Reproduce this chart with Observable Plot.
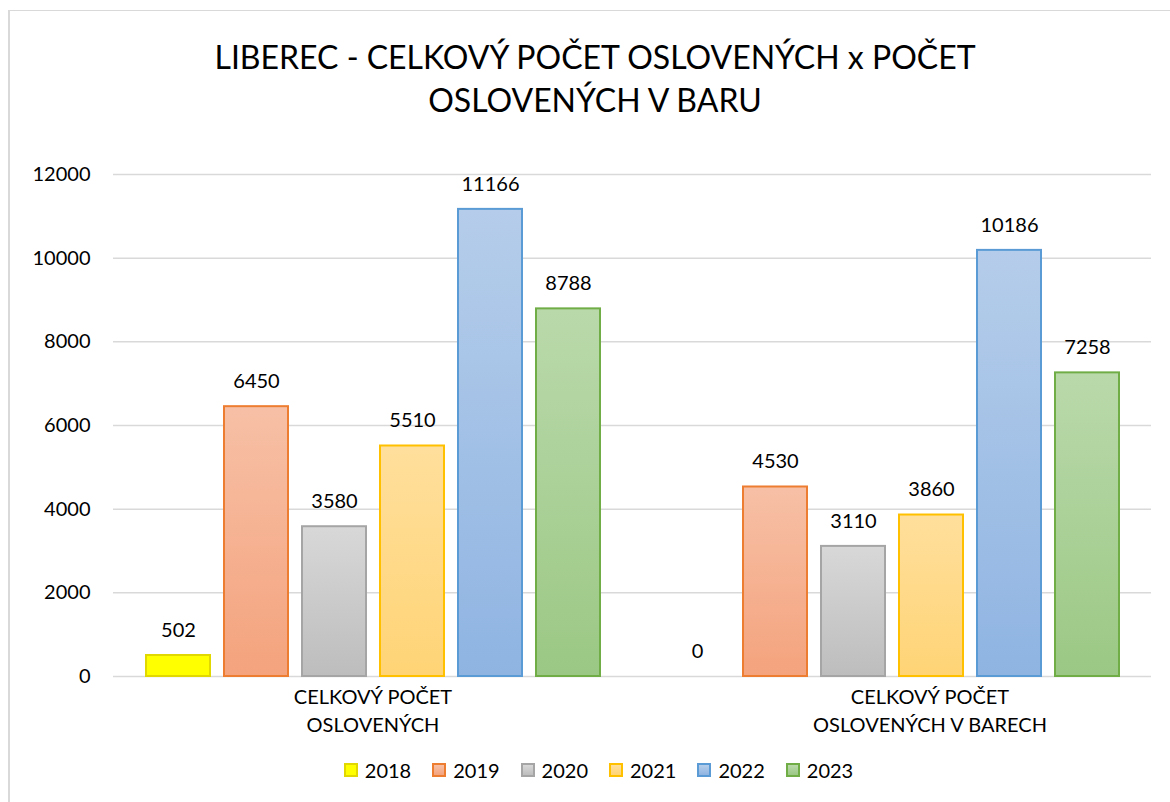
<!DOCTYPE html>
<html>
<head>
<meta charset="utf-8">
<script src="https://cdn.jsdelivr.net/npm/d3@7"></script>
<script src="https://cdn.jsdelivr.net/npm/@observablehq/plot@0.6"></script>
<style>
  html, body { margin: 0; padding: 0; background: #fff; }
  #wrap { position: relative; width: 1170px; height: 802px; overflow: hidden; font-family: Lato, "Noto Sans", sans-serif; color: #000; }
  #frame { position: absolute; left: 8px; top: 10px; width: 1200px; height: 900px; border-top: 1px solid #d9d9d9; border-left: 2px solid #d9d9d9; box-sizing: border-box; }
  #title { position: absolute; left: 0; top: 35px; width: 1190px; text-align: center; font-size: 32px; line-height: 43px; }
  #chart { position: absolute; left: 0; top: 140px; }
  #legend { position: absolute; left: 0; top: 758px; width: 1197px; display: flex; justify-content: center; font-size: 20px; line-height: 24px; }
  .item { display: flex; align-items: center; margin-right: 21px; }
  .item:last-child { margin-right: 0; }
  .sw { width: 14px; height: 14px; box-sizing: border-box; border: 2px solid; margin-right: 7px; }
</style>
</head>
<body>
<div id="wrap">
  <div id="frame"></div>
  <div id="title">LIBEREC - CELKOVÝ POČET OSLOVENÝCH x POČET<br>OSLOVENÝCH V BARU</div>
  <div id="chart"></div>
  <div id="legend"></div>
</div>
<script>
// ---- data ----
const categories = ["CELKOVÝ POČET OSLOVENÝCH", "CELKOVÝ POČET OSLOVENÝCH V BARECH"];
const categoryLabels = ["CELKOVÝ POČET\nOSLOVENÝCH", "CELKOVÝ POČET\nOSLOVENÝCH V BARECH"];
const years = ["2018", "2019", "2020", "2021", "2022", "2023"];
const totalValues = [502, 6450, 3580, 5510, 11166, 8788];
const barValues = [0, 4530, 3110, 3860, 10186, 7258];
const yTicks = [0, 2000, 4000, 6000, 8000, 10000, 12000];

// ---- styles ----
const fillTop = ["#ffff00", "#f7c0a6", "#d8d8d8", "#ffdf9c", "#b5cdea", "#bad9ab"];
const fillBottom = ["#ffff00", "#f4a37d", "#bdbdbd", "#ffd476", "#8fb4e2", "#9bc884"];
const strokes = ["#e0d800", "#ed7d31", "#a5a5a5", "#ffc000", "#5b9bd5", "#70ad47"];
const labelShift = [0, 38];

const seriesByCategory = [totalValues, barValues];
const rows = [];
categories.forEach((c, ci) => {
  years.forEach((y, yi) => {
    rows.push({category: c, year: y, value: seriesByCategory[ci][yi], yi});
  });
});

const chart = Plot.plot({
  width: 1170,
  height: 605,
  marginTop: 34,
  marginBottom: 69,
  marginLeft: 113,
  marginRight: 19,
  style: {fontFamily: "Lato, 'Noto Sans', sans-serif", fontSize: "20px", color: "#000", background: "transparent", overflow: "visible"},
  fx: {domain: categories, padding: 0, label: null, axis: null},
  x: {domain: years, paddingInner: 0.185, paddingOuter: 0.4, axis: null},
  y: {domain: [0, 12000], axis: null},
  color: {type: "identity"},
  marks: [
    Plot.gridY(yTicks, {stroke: "#d9d9d9", strokeOpacity: 1, strokeWidth: 1.5}),
    Plot.axisY(yTicks, {tickSize: 0, tickPadding: 23, tickFormat: d => String(d), fontSize: 20, label: null, fill: "#000"}),
    ...categories.map((c, ci) => Plot.text([c], {
      fx: d => d,
      frameAnchor: "bottom",
      text: () => categoryLabels[ci],
      lineAnchor: "top",
      lineHeight: 1.4,
      dy: 8,
      dx: labelShift[ci],
      fontSize: 20,
      fill: "#000"
    })),
    Plot.barY(rows.filter(d => d.value > 0), {
      fx: "category", x: "year", y: "value",
      fill: d => `url(#grad${d.yi})`,
      stroke: d => strokes[d.yi],
      strokeWidth: 2
    }),
    Plot.text(rows, {
      fx: "category", x: "year", y: "value",
      text: d => String(d.value),
      dy: -25, fontSize: 20, fill: "#000"
    })
  ]
});

// gradient definitions
const defs = d3.select(chart).insert("defs", ":first-child");
years.forEach((y, i) => {
  const g = defs.append("linearGradient").attr("id", `grad${i}`)
    .attr("x1", 0).attr("y1", 0).attr("x2", 0).attr("y2", 1);
  g.append("stop").attr("offset", "0%").attr("stop-color", fillTop[i]);
  g.append("stop").attr("offset", "100%").attr("stop-color", fillBottom[i]);
});

document.getElementById("chart").appendChild(chart);

// legend
const legend = document.getElementById("legend");
years.forEach((y, i) => {
  const item = document.createElement("div");
  item.className = "item";
  const sw = document.createElement("div");
  sw.className = "sw";
  sw.style.background = `linear-gradient(${fillTop[i]}, ${fillBottom[i]})`;
  sw.style.borderColor = strokes[i];
  const t = document.createElement("span");
  t.textContent = y;
  item.appendChild(sw);
  item.appendChild(t);
  legend.appendChild(item);
});
</script>
</body>
</html>
